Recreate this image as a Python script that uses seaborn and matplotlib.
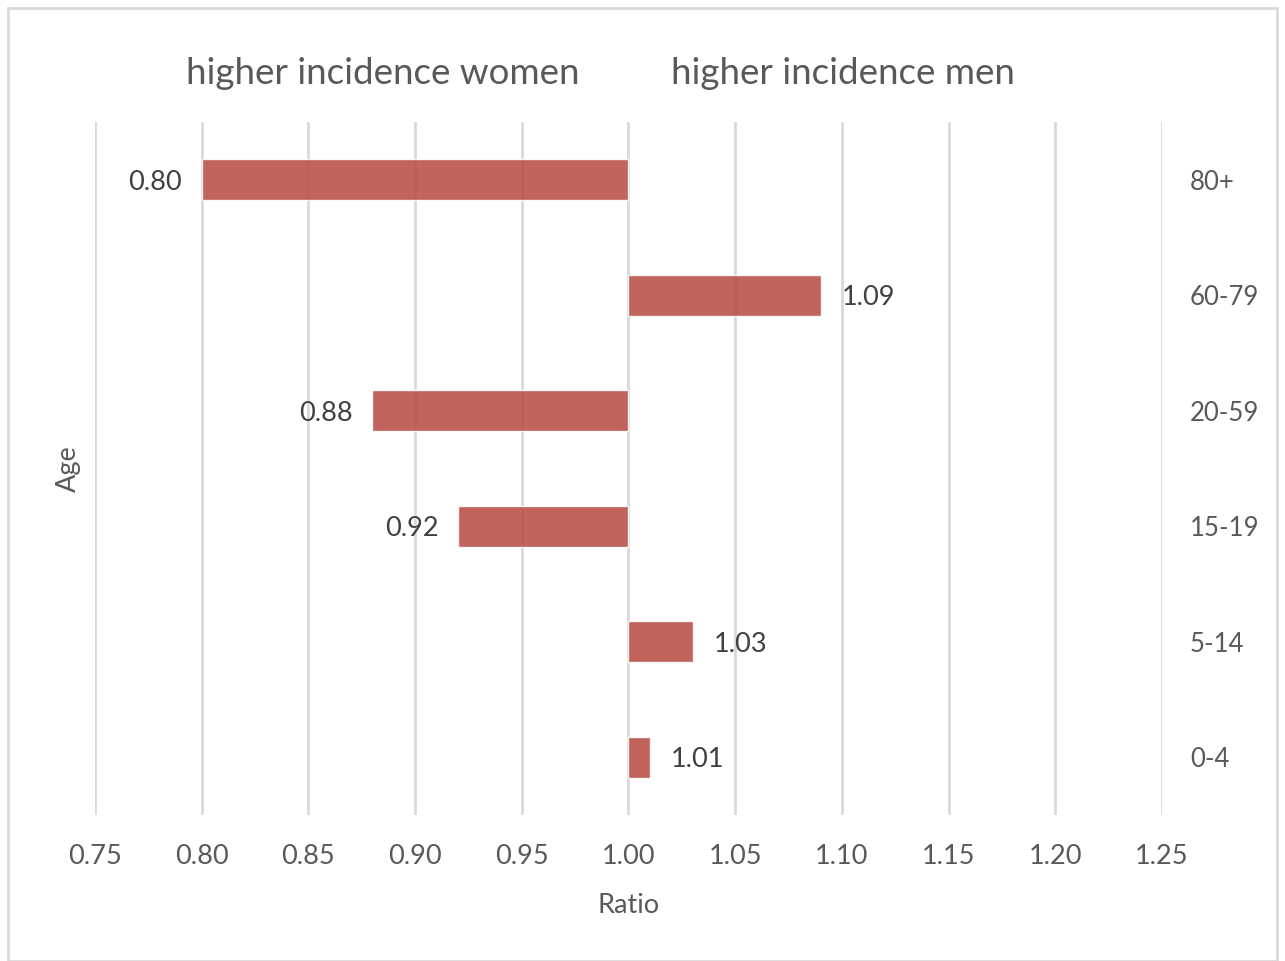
import matplotlib
matplotlib.use("Agg")
import matplotlib.pyplot as plt
from matplotlib.patches import Rectangle
import seaborn as sns
import pandas as pd

# Incidence ratio (men / women) by age group
age_groups = ["80+", "60-79", "20-59", "15-19", "5-14", "0-4"]
ratios = [0.80, 1.09, 0.88, 0.92, 1.03, 1.01]
x_ticks = [0.75, 0.80, 0.85, 0.90, 0.95, 1.00, 1.05, 1.10, 1.15, 1.20, 1.25]

baseline = 1.0
df = pd.DataFrame({"Age": age_groups, "Ratio": ratios})
df["offset"] = df["Ratio"] - baseline

sns.set_theme(style="white")
plt.rcParams["font.family"] = ["Lato", "DejaVu Sans"]

text_grey = "#595959"
label_dark = "#404040"
grid_grey = "#D9D9D9"

fig = plt.figure(figsize=(12.85, 9.61), dpi=100)
ax = fig.add_axes([0.0739, 0.1519, 0.9043 - 0.0739, 0.873 - 0.1519])

# Bars grow from the 1.00 baseline towards each ratio
sns.barplot(data=df, y="Age", x="offset", order=age_groups, orient="h",
            left=baseline, color="#B94F47", alpha=0.88, width=0.355,
            saturation=1, ax=ax, zorder=2)

ax.set_xlim(0.75, 1.25)
ax.set_ylim(len(age_groups) - 0.5, -0.5)
ax.set_xticks(x_ticks)
ax.set_xticklabels([f"{t:.2f}" for t in x_ticks])
ax.grid(axis="x", color=grid_grey, linewidth=2, zorder=0)
ax.grid(axis="y", visible=False)
ax.set_axisbelow(True)
for s in ax.spines.values():
    s.set_visible(False)

ax.tick_params(axis="x", length=0, pad=21, labelsize=19.5, labelcolor=text_grey)
ax.yaxis.tick_right()
ax.tick_params(axis="y", length=0, pad=20, labelsize=18.5, labelcolor=text_grey)
for lbl in ax.get_yticklabels():
    lbl.set_horizontalalignment("left")

ax.set_xlabel("Ratio", fontsize=19.5, color=text_grey, labelpad=17)
ax.yaxis.set_label_position("left")
ax.set_ylabel("Age", fontsize=19.5, color=text_grey, labelpad=10)

# Value labels beside the free end of each bar
for i, r in enumerate(ratios):
    if r < baseline:
        ax.annotate(f"{r:.2f}", (r, i), xytext=(-14, 0), textcoords="offset points",
                    ha="right", va="center_baseline", fontsize=19.5, color=label_dark)
    else:
        ax.annotate(f"{r:.2f}", (r, i), xytext=(15, 0), textcoords="offset points",
                    ha="left", va="center_baseline", fontsize=19.5, color=label_dark)

fig.text(383 / 1285, 1 - 71 / 961, "higher incidence women", ha="center", va="center_baseline",
         fontsize=26.5, color=text_grey)
fig.text(843 / 1285, 1 - 71 / 961, "higher incidence men", ha="center", va="center_baseline",
         fontsize=26.5, color=text_grey)

fig.patches.append(Rectangle((8 / 1285, 0.0), 1 - 16 / 1285, 1 - 8 / 961,
                             transform=fig.transFigure, fill=False,
                             edgecolor=grid_grey, linewidth=2))

fig.savefig("out.png", dpi=100)
